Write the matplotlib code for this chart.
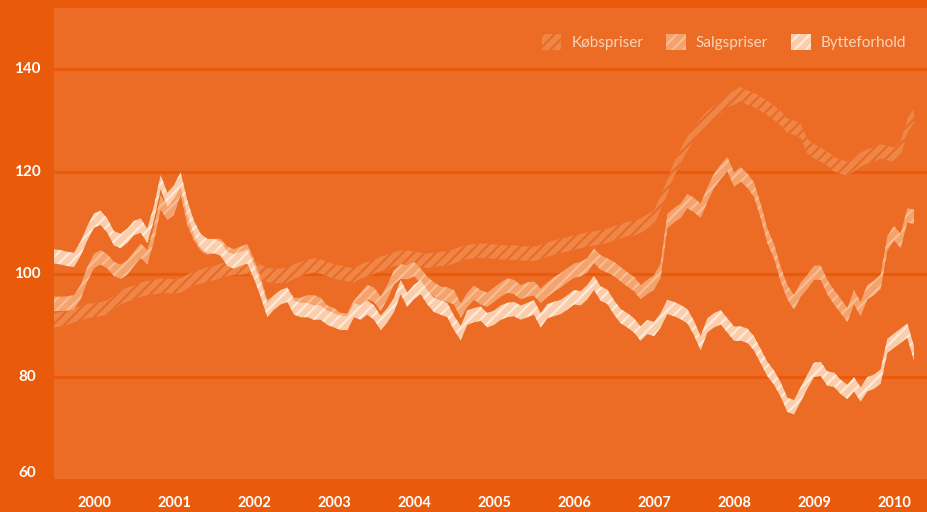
import numpy as np
import matplotlib
matplotlib.use("Agg")
import matplotlib.pyplot as plt
import matplotlib.transforms as mtransforms
from matplotlib.patches import Patch

# monthly index values, Jan 2000 - Oct 2010
kob = [
    91.0, 91.2, 91.5, 92.0, 92.3, 92.8, 93.0, 93.2, 93.5, 94.5, 95.5, 96.0,
    96.4, 97.0, 97.3, 97.5, 97.7, 97.7, 97.6, 97.8, 98.5, 99.2, 99.5, 100.0,
    100.2, 100.7, 101.0, 101.3, 101.3, 101.5, 101.0, 100.5, 99.8, 99.7, 99.7, 99.8,
    100.5, 101.0, 101.5, 101.7, 101.5, 101.0, 100.5, 100.3, 100.0, 99.8, 100.5, 101.0,
    101.5, 102.0, 102.5, 103.0, 103.2, 103.3, 103.0, 102.8, 102.6, 102.8, 103.0, 103.0,
    103.5, 104.0, 104.3, 104.5, 104.6, 104.6, 104.4, 104.3, 104.2, 104.2, 104.1, 104.0,
    104.0, 104.3, 104.8, 105.2, 105.6, 105.8, 106.2, 106.5, 106.8, 107.0, 107.2, 107.5,
    108.0, 108.4, 108.8, 109.0, 109.5, 110.3, 111.0, 114.0, 117.0, 120.5, 123.0, 125.5,
    127.5, 129.0, 130.5, 131.5, 132.5, 134.0, 134.5, 135.2, 134.5, 134.0, 133.3, 132.5,
    131.5, 130.5, 129.0, 128.6, 128.0, 125.0, 124.0, 123.4, 122.6, 121.5, 121.0, 120.6,
    121.5, 122.4, 123.0, 123.4, 124.0, 123.7, 123.3, 124.5, 129.0, 131.0]

salg = [
    94.2, 94.2, 94.3, 94.5, 96.5, 100.0, 102.6, 103.3, 102.5, 101.0, 100.5, 101.3,
    103.0, 104.6, 103.3, 107.9, 114.0, 112.0, 113.0, 116.9, 111.0, 108.0, 106.0, 105.2,
    105.5, 105.5, 104.0, 103.5, 104.0, 104.5, 101.5, 98.0, 93.5, 94.5, 95.5, 96.0,
    94.0, 94.0, 94.5, 94.5, 94.0, 92.5, 92.0, 91.0, 91.0, 93.5, 95.0, 96.5,
    96.0, 94.2, 96.5, 99.4, 100.5, 100.4, 101.0, 99.7, 98.1, 97.0, 96.2, 96.0,
    95.5, 92.9, 95.0, 96.4, 95.5, 95.0, 96.0, 97.0, 97.8, 97.5, 96.5, 97.0,
    97.2, 95.8, 97.0, 98.0, 98.8, 99.8, 100.7, 101.0, 101.7, 103.6, 102.3, 101.7,
    101.0, 100.0, 99.0, 98.1, 96.5, 97.5, 98.4, 100.7, 110.4, 111.5, 112.4, 114.3,
    113.5, 112.4, 115.5, 118.2, 120.0, 121.5, 118.5, 119.5, 118.3, 116.5, 112.4, 107.5,
    104.5, 100.0, 96.5, 94.5, 97.0, 98.5, 100.3, 100.3, 97.5, 95.5, 93.8, 92.0,
    95.5, 93.2, 96.5, 97.3, 98.5, 106.0, 108.0, 106.5, 111.5, 111.2]

bytte = [
    103.5, 103.3, 103.0, 102.8, 105.0, 108.0, 110.5, 111.0, 109.5, 107.0, 106.5, 107.5,
    109.0, 109.5, 107.5, 112.0, 118.0, 114.5, 116.0, 118.5, 113.0, 109.0, 106.5, 105.5,
    105.5, 105.0, 103.0, 102.5, 103.0, 103.5, 100.5, 97.0, 93.0, 94.5, 95.5, 96.0,
    93.5, 93.0, 93.0, 92.5, 92.5, 91.5, 91.0, 90.5, 90.5, 93.0, 92.5, 93.5,
    92.5, 90.5, 92.0, 94.0, 97.5, 95.0, 96.5, 97.5, 95.5, 94.0, 93.5, 93.0,
    90.5, 88.5, 91.5, 92.0, 92.3, 91.0, 91.5, 92.5, 93.0, 93.2, 92.5, 93.0,
    93.5, 91.0, 92.8, 93.2, 93.6, 94.5, 95.5, 95.3, 96.5, 98.3, 96.2, 95.6,
    93.5, 91.8, 91.0, 90.0, 88.4, 89.7, 89.3, 91.0, 93.6, 93.2, 92.6, 91.8,
    89.5, 86.5, 90.0, 91.0, 91.6, 90.0, 88.4, 88.4, 88.0, 86.5, 84.0, 81.5,
    79.8, 77.5, 74.5, 74.0, 76.5, 79.0, 81.3, 81.5, 79.6, 79.4, 78.0, 77.0,
    78.5, 76.5, 78.5, 79.0, 80.0, 86.0, 87.0, 88.0, 89.0, 84.5]

labels = ["Købspriser", "Salgspriser", "Bytteforhold"]
years = list(range(2000, 2011))
yticks = [60, 80, 100, 120, 140]

t = 2000 + np.arange(len(kob)) / 12.0

outer_bg = "#E95A0B"
inner_bg = "#EC6C26"
fills = ["#F08646", "#F5A36C", "#FBCDAB"]
stripes = ["#E96A28", "#F9BE96", "#FFEADB"]
half = 1.4

plt.rcParams["hatch.linewidth"] = 1.5

fig = plt.figure(figsize=(9.28, 5.12), dpi=100, facecolor=outer_bg)
ax = fig.add_axes([54 / 928, 1 - 479 / 512, 874 / 928, 471 / 512])
ax.set_facecolor(inner_bg)

for v in yticks[1:]:
    ax.axhline(v, color=outer_bg, lw=2.2, zorder=1)

for i, series in enumerate([kob, salg, bytte]):
    y = np.array(series)
    ax.fill_between(t, y - half, y + half, facecolor=fills[i], edgecolor=stripes[i],
                    hatch="///", linewidth=0, zorder=2 + i)

ax.set_xlim(2000, 2010.925)
ax.set_ylim(60, 152)
for s in ax.spines.values():
    s.set_visible(False)

# y labels centred in the left margin
ax.set_yticks([])
trans = mtransforms.blended_transform_factory(ax.transAxes, ax.transData)
for v in yticks:
    yy = v + 1.2 if v == 60 else v
    ax.text(-27 / 874, yy, str(v), transform=trans, ha="center", va="center",
            color="white", fontsize=11, fontweight="bold", family="Lato")

ax.set_xticks([y + 0.5 for y in years])
ax.set_xticklabels([str(y) for y in years])
ax.tick_params(length=0, colors="white", labelsize=10.5)
ax.tick_params(axis="x", pad=12)
for lab in ax.get_xticklabels():
    lab.set_fontfamily("Lato")
    lab.set_fontweight("bold")

handles = [Patch(facecolor=fills[i], edgecolor=stripes[i], hatch="///", linewidth=0)
           for i in range(3)]
leg = ax.legend(handles, labels, loc="upper right", bbox_to_anchor=(0.984, 0.962),
                ncol=3, frameon=False, handlelength=1.3, handleheight=1.3,
                handletextpad=0.65, columnspacing=1.5, borderpad=0,
                prop={"family": "Lato", "size": 11})
for txt in leg.get_texts():
    txt.set_color("#FBD3B8")

fig.savefig("out.png", dpi=100, facecolor=outer_bg)
